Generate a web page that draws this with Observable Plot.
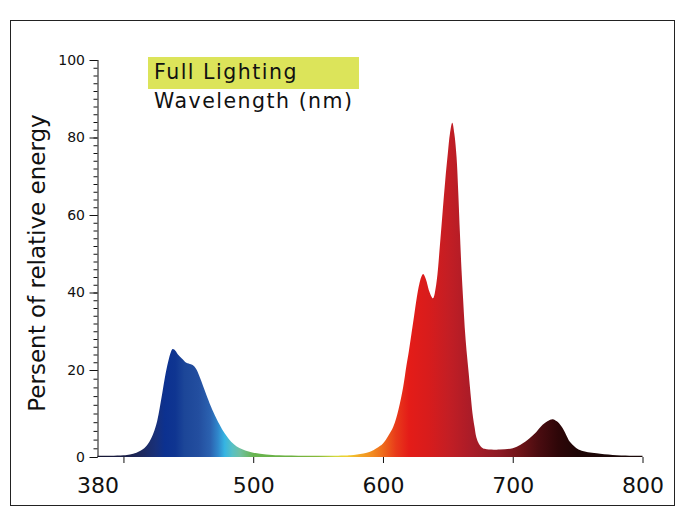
<!DOCTYPE html>
<html>
<head>
<meta charset="utf-8">
<script src="https://cdn.jsdelivr.net/npm/d3@7"></script>
<script src="https://cdn.jsdelivr.net/npm/@observablehq/plot@0.6"></script>
<style>
  body { margin: 0; background: #fff; font-family: "DejaVu Sans", sans-serif; }
  #wrap { position: relative; width: 685px; height: 523px; overflow: hidden; background: #fff; }
  #frame { position: absolute; left: 10px; top: 20px; width: 665px; height: 486px; border: 1px solid #222; box-sizing: border-box; }
  #chart { position: absolute; left: 0; top: 0; }
  #legBox { position: absolute; left: 148px; top: 57px; width: 211px; height: 32px; background: #dce45a; }
  .leg { position: absolute; left: 154px; font-size: 20.5px; letter-spacing: 1.5px; color: #111; white-space: nowrap; line-height: 1; }
</style>
</head>
<body>
<div id="wrap">
  <div id="frame"></div>
  <div id="legBox"></div>
  <div class="leg" id="leg1" style="top:62px">Full Lighting</div>
  <div class="leg" id="leg2" style="top:91px">Wavelength (nm)</div>
  <div id="chart"></div>
</div>
<script>
// ---- data ----
const wavelengths = [380, 390, 400, 405, 410, 416, 420, 423, 426, 428, 430, 432, 434.5, 436.5, 438, 440, 442, 445, 448.5, 452, 454.5, 456.5, 459, 461.5, 464, 467, 469, 472, 476, 479.5, 483, 487, 492, 500, 510, 520, 540, 560, 570, 575, 580, 585, 590, 595, 600, 604, 608, 612, 615.5, 618, 620, 622, 624, 626, 628, 629.5, 631, 633, 636, 638.5, 641, 644, 646, 648, 650, 651.6, 653.4, 655, 656.7, 658, 659.3, 660.5, 661.8, 663, 664.4, 666, 667.5, 669, 670.5, 672, 674, 677, 680, 690, 700, 706, 713, 718, 723, 727, 730.8, 734, 737.6, 741, 744, 748, 751.7, 758, 764.6, 777, 790, 800];
const energies = [0.3, 0.3, 0.4, 0.6, 1.0, 2.0, 3.5, 5.4, 8.3, 11.4, 14.8, 18.4, 22.2, 24.6, 25.4, 25, 24, 23.0, 21.9, 21.5, 21, 20, 18.2, 16.2, 14.2, 11.9, 10.5, 8.6, 6.4, 4.8, 3.5, 2.5, 1.7, 1.0, 0.6, 0.4, 0.3, 0.3, 0.35, 0.4, 0.6, 0.8, 1.2, 2.0, 3.1, 4.8, 7, 11, 16, 21, 25, 29.5, 34, 38.6, 42.2, 44, 44.8, 43.5, 40, 38.5, 42, 52.7, 61, 69, 76, 81, 83.8, 81, 75, 66, 55.3, 46, 38, 31, 25, 19.5, 14.5, 10, 7, 4.5, 3, 2, 1.8, 1.7, 2.0, 2.8, 4.3, 5.7, 7.4, 8.3, 8.7, 8.2, 7.0, 5.2, 3.5, 2.3, 1.6, 1.1, 0.85, 0.45, 0.3, 0.3];

// spectrum colour stops (wavelength, colour)
const gradientNm = [380, 400, 415, 425, 432, 440, 447, 458, 467, 473, 478, 484, 490, 500, 530, 550, 563, 572, 582, 592, 600, 610, 620, 635, 650, 668, 690, 705, 720, 735, 750, 800];
const gradientColors = ["#151530", "#1a1e45", "#1e2a60", "#18307a", "#0c3190", "#0f3591", "#1c4698", "#234e9f", "#2b62b0", "#3088cc", "#36b4e2", "#58c0c4", "#70c0a0", "#68b450", "#6cb040", "#88ba3a", "#d0d83c", "#f0d030", "#f2a828", "#f28a20", "#ee6a1c", "#e83a1a", "#e41c18", "#d81c1c", "#c41e24", "#aa1c28", "#8c1a24", "#701418", "#4a0c10", "#2e0608", "#1e0606", "#1a0a0a"];

const yMajorTicks = [0, 20, 40, 60, 80, 100];
const yMinorTicks = d3.range(0, 101, 2);
const xTickMarks = [400, 500, 600, 700, 800];
const xTickLabels = [380, 500, 600, 700, 800];
const yTitle = "Persent of relative energy";

const data = wavelengths.map((w, i) => ({w, e: energies[i]}));

// the reference axis gives the 0–20 band a little more room than the others
const stretch = 87 / 77.5;
const yWarp = v => v <= 20 ? v * stretch : v + 20 * (stretch - 1);
const majorPos = yMajorTicks.map(yWarp);
const minorPos = yMinorTicks.map(yWarp);
const majorLabel = new Map(majorPos.map((p, i) => [p, String(yMajorTicks[i])]));

const chart = Plot.plot({
  width: 685,
  height: 523,
  marginLeft: 97.5,
  marginRight: 42.5,
  marginTop: 60,
  marginBottom: 66,
  style: {fontFamily: "DejaVu Sans, sans-serif", background: "transparent", color: "#111", overflow: "visible"},
  x: {domain: [380, 800]},
  y: {transform: yWarp, domain: [0, yWarp(100)]},
  marks: [
    Plot.areaY(data, {x: "w", y: "e", fill: "url(#spectrum)", curve: "catmull-rom"}),
    Plot.ruleX([380], {stroke: "#111", strokeWidth: 1}),
    Plot.axisY({ticks: minorPos, tickSize: 4, tickFormat: () => "", label: null, stroke: "#111"}),
    Plot.axisY({ticks: majorPos, tickSize: 8, tickPadding: 5, fontSize: 14, label: null, stroke: "#111", fill: "#111", tickFormat: d => majorLabel.get(d)}),
    Plot.axisX({ticks: xTickMarks, tickSize: 6, tickFormat: () => "", label: null, stroke: "#111"}),
    Plot.axisX({ticks: xTickLabels, tickSize: 0, tickPadding: 20, fontSize: 22, label: null, fill: "#111"}),
    Plot.text([yTitle], {frameAnchor: "left", textAnchor: "middle", rotate: -90, dx: -60.5, dy: 4, fontSize: 23, fill: "#111"})
  ]
});

// gradient positioned with the chart's own x scale
const xs = chart.scale("x");
const x1 = xs.apply(380), x2 = xs.apply(800);
const svg = d3.select(chart);
const grad = svg.insert("defs", ":first-child")
  .append("linearGradient")
  .attr("id", "spectrum")
  .attr("gradientUnits", "userSpaceOnUse")
  .attr("x1", x1).attr("x2", x2).attr("y1", 0).attr("y2", 0);
gradientNm.forEach((nm, i) => {
  grad.append("stop")
    .attr("offset", (xs.apply(nm) - x1) / (x2 - x1))
    .attr("stop-color", gradientColors[i]);
});

document.getElementById("chart").appendChild(chart);
</script>
</body>
</html>
